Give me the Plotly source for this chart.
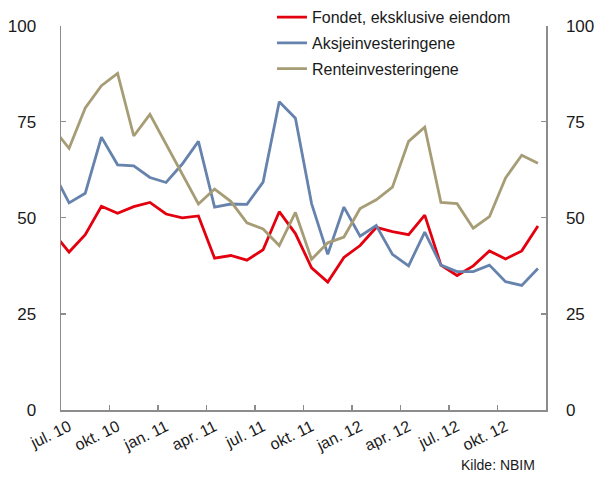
import plotly.graph_objects as go

# month index: -1 = jun. 10 (clipped at left edge), 0 = jul. 10 ... 29 = des. 12
months = list(range(-1, 30))

fondet = [46.2, 41.1, 45.6, 53.0, 51.2, 52.9, 54.0, 51.0, 50.0, 50.5, 39.5, 40.2,
          39.0, 41.7, 51.6, 45.9, 37.0, 33.3, 39.7, 42.8, 47.5, 46.4, 45.6, 50.7,
          37.7, 35.0, 37.5, 41.4, 39.3, 41.4, 47.9]
aksjer = [62.0, 53.9, 56.4, 71.0, 63.8, 63.5, 60.5, 59.2, 64.0, 69.9, 52.8, 53.6,
          53.5, 59.3, 80.2, 75.9, 53.7, 40.5, 52.8, 45.2, 48.0, 40.5, 37.5, 46.3,
          37.7, 36.0, 36.0, 37.7, 33.4, 32.4, 36.8]
renter = [73.3, 68.1, 78.6, 84.4, 87.6, 71.3, 76.9, 69.1, 61.1, 53.6, 57.5, 54.3,
          48.7, 47.1, 42.8, 51.4, 39.2, 43.5, 45.0, 52.4, 54.7, 58.0, 69.9, 73.6,
          54.0, 53.7, 47.3, 50.3, 60.4, 66.3, 64.2]

series_names = ["Fondet, eksklusive eiendom", "Aksjeinvesteringene", "Renteinvesteringene"]
colors = ["#e3000f", "#6683ad", "#a69d76"]

tick_pos = [0, 3, 6, 9, 12, 15, 18, 21, 24, 27]
tick_text = ["jul. 10", "okt. 10", "jan. 11", "apr. 11", "jul. 11", "okt. 11",
             "jan. 12", "apr. 12", "jul. 12", "okt. 12"]
boundary_ticks = [2.5, 5.5, 8.5, 11.5, 14.5, 17.5, 20.5, 23.5, 26.5]
y_ticks = [0, 25, 50, 75, 100]

FONT = "Liberation Sans, Arial, Helvetica, sans-serif"
AXIS_GREY = "#8c8c8c"
TXT = "#1a1a1a"

PLOT_H = 410  # pixel height of plotting area (top of page to x-axis)
Y_TOP = 19    # pixel row of the 100 tick

fig = go.Figure()
for i, (name, vals, col) in enumerate(zip(series_names, [fondet, aksjer, renter], colors)):
    fig.add_trace(go.Scatter(
        x=months, y=vals, mode="lines", name=name,
        line=dict(color=col, width=2.8),
        legendgroup=f"g{i}",
        yaxis="y2" if i == 2 else "y",
    ))

ydom = [0, (PLOT_H - Y_TOP) / PLOT_H]

fig.update_layout(
    template="none",
    width=595, height=477,
    margin=dict(l=61, r=49, t=0, b=477 - PLOT_H, pad=0),
    paper_bgcolor="white", plot_bgcolor="white",
    font=dict(family=FONT, color=TXT, size=16),
    showlegend=True,
    legend=dict(
        x=0.435, y=1.017, xanchor="left", yanchor="top",
        bgcolor="rgba(0,0,0,0)", borderwidth=0,
        font=dict(size=16, color=TXT, family=FONT),
        tracegroupgap=2, itemwidth=30,
    ),
    xaxis=dict(
        range=[-0.5, 29.5], showgrid=False, zeroline=False, automargin=False,
        showline=True, linecolor=AXIS_GREY, linewidth=1.5,
        tickmode="array", tickvals=tick_pos, ticktext=tick_text,
        ticks="", tickangle=-26,
        tickfont=dict(size=16, color=TXT, family=FONT),
        minor=dict(tickmode="array", tickvals=boundary_ticks, ticks="inside",
                   ticklen=5, tickcolor=AXIS_GREY, tickwidth=1.2, showgrid=False),
    ),
    yaxis=dict(
        range=[0, 100], domain=ydom, showgrid=False, zeroline=False, automargin=False,
        showline=True, linecolor=AXIS_GREY, linewidth=1.5,
        tickmode="array", tickvals=y_ticks,
        ticks="inside", ticklen=5, tickcolor=AXIS_GREY, tickwidth=1.2,
        tickfont=dict(size=17, color=TXT, family=FONT), ticklabelstandoff=20,
    ),
    yaxis2=dict(
        range=[0, 100], domain=ydom, overlaying="y", side="right", showgrid=False,
        zeroline=False, automargin=False,
        showline=True, linecolor=AXIS_GREY, linewidth=1.5,
        tickmode="array", tickvals=y_ticks,
        ticks="inside", ticklen=5, tickcolor=AXIS_GREY, tickwidth=1.2,
        tickfont=dict(size=17, color=TXT, family=FONT), ticklabelstandoff=15,
    ),
    annotations=[dict(
        text="Kilde: NBIM", xref="paper", yref="paper",
        x=0.981, y=-56 / PLOT_H, xanchor="right", yanchor="middle",
        showarrow=False, font=dict(size=14, color=TXT, family=FONT),
    )],
)

fig.write_html("out.html",
               config={"displayModeBar": False, "staticPlot": True},
               post_script="document.body.style.margin='0px';document.body.style.padding='0px';")
